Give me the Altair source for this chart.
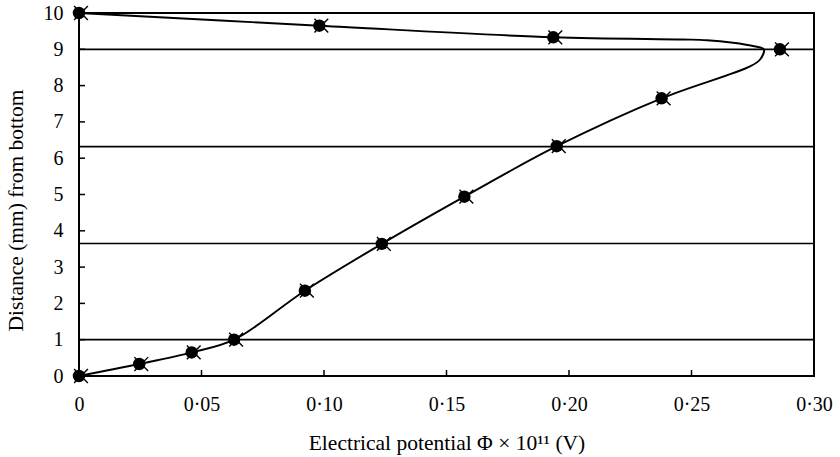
import altair as alt
import pandas as pd

# Measured potential at each depth (markers)
phi = [0, 0.0246, 0.046, 0.0633, 0.0922, 0.1236, 0.1573, 0.195, 0.2378, 0.2861, 0.1936, 0.0981, 0]
depth = [0, 0.33, 0.65, 1.0, 2.35, 3.64, 4.94, 6.33, 7.65, 9.0, 9.33, 9.65, 10]

# Smoothed profile curve
curve_phi = [0, 0.0246, 0.046, 0.0633, 0.0922, 0.1236, 0.1573, 0.195, 0.2378, 0.2739,
             0.278, 0.2795, 0.2751, 0.267, 0.2563, 0.2465, 0.1936, 0.0981, 0]
curve_depth = [0, 0.33, 0.65, 1.0, 2.35, 3.64, 4.94, 6.33, 7.65, 8.53,
               8.72, 9.0, 9.09, 9.18, 9.25, 9.27, 9.33, 9.65, 10]

# Layer boundaries (mm from bottom)
boundaries = [1, 3.65, 6.32, 9]

x_ticks = [0, 0.05, 0.10, 0.15, 0.20, 0.25, 0.30]
y_ticks = [0, 1, 2, 3, 4, 5, 6, 7, 8, 9, 10]

FONT = "Liberation Serif"
LABEL_FS = 20
TITLE_FS = 21.5

pts = pd.DataFrame({"phi": phi, "depth": depth})
curve = pd.DataFrame({"phi": curve_phi, "depth": curve_depth, "idx": list(range(len(curve_phi)))})
bnd = pd.DataFrame({"depth": boundaries})
xt = pd.DataFrame({"phi": x_ticks[1:-1]})
yt = pd.DataFrame({"depth": y_ticks[1:-1]})

x_scale = alt.Scale(domain=[0, 0.30], nice=False, zero=False)
y_scale = alt.Scale(domain=[0, 10], nice=False, zero=False)

x_axis = alt.Axis(
    values=x_ticks,
    labelExpr="datum.value == 0 ? '0' : replace(format(datum.value, '.2f'), '.', '·')",
    ticks=False, domain=False, grid=False, labelFlush=False, labelOverlap=False,
    labelPadding=18, labelFont=FONT, labelFontSize=LABEL_FS, labelColor="black",
    title="Electrical potential Φ × 10¹¹ (V)", titleFont=FONT, titleFontSize=TITLE_FS,
    titleFontWeight="normal", titleColor="black", titleY=73, titleBaseline="alphabetic",
)
y_axis = alt.Axis(
    values=y_ticks, ticks=False, domain=False, grid=False, labelOverlap=False,
    labelPadding=16, labelFont=FONT, labelFontSize=LABEL_FS, labelColor="black",
    title="Distance (mm) from bottom", titleFont=FONT, titleFontSize=TITLE_FS,
    titleFontWeight="normal", titleColor="black", titleX=-57, titleY=197,
    titleBaseline="alphabetic",
)

# Every layer carries the same axis definition so the merged axes keep it
X = alt.X("phi:Q", scale=x_scale, axis=x_axis)
Y = alt.Y("depth:Q", scale=y_scale, axis=y_axis)

line = alt.Chart(curve).mark_line(
    color="black", strokeWidth=1.9, interpolate="catmull-rom"
).encode(x=X, y=Y, order="idx:Q")

rules = alt.Chart(bnd).mark_rule(color="black", strokeWidth=1.7).encode(y=Y)

xticks = alt.Chart(xt).mark_rule(color="black", strokeWidth=1.5).encode(
    x=X, y=alt.value(363), y2=alt.value(357)
)
yticks = alt.Chart(yt).mark_rule(color="black", strokeWidth=1.5).encode(
    y=Y, x=alt.value(0), x2=alt.value(6)
)

crosses = alt.Chart(pts).mark_point(
    shape="M-1,-1L1,1M-1,1L1,-1", filled=False, color="black",
    strokeWidth=1.4, size=190, xOffset=2, opacity=1
).encode(x=X, y=Y)

dots = alt.Chart(pts).mark_point(
    shape="circle", filled=True, color="black", size=155, opacity=1
).encode(x=X, y=Y)

chart = alt.layer(line, rules, xticks, yticks, crosses, dots).properties(
    width=735, height=363,
    autosize=alt.AutoSizeParams(type="none"),
    padding={"left": 79, "top": 13, "right": 26, "bottom": 81},
    background="white",
).configure_view(stroke="black", strokeWidth=2)

chart.save("out.html", embed_options={"renderer": "svg", "actions": False})
